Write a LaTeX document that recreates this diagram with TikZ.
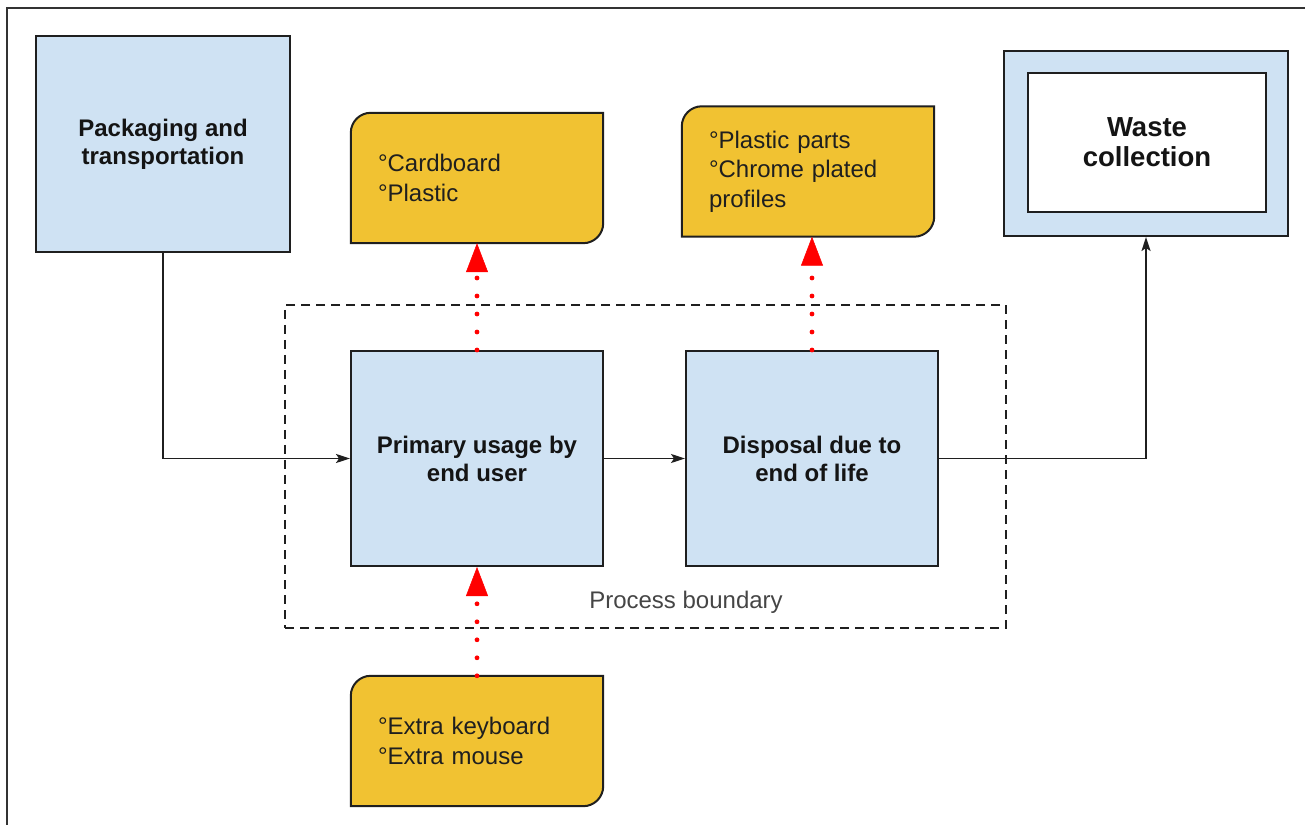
\documentclass[tikz,border=0pt]{standalone}
\usepackage{fontspec}
\setmainfont{Liberation Sans}
\usetikzlibrary{arrows.meta,backgrounds}
\definecolor{boxblue}{HTML}{CFE2F3}
\definecolor{noteyellow}{HTML}{F1C232}
\definecolor{edge}{HTML}{1F1F1F}
\definecolor{labelgray}{HTML}{454545}
\definecolor{framegray}{HTML}{333333}
\begin{document}
\begin{tikzpicture}[x=1pt,y=1pt,
  process/.style={draw=edge, line width=2pt, fill=boxblue, minimum width=252pt,
    minimum height=215pt, inner sep=0pt, align=center,
    font=\fontsize{24}{28}\selectfont\bfseries, text=black!92},
  note/.style={minimum width=252pt, minimum height=130pt, inner xsep=27pt,
    inner ysep=0pt, text width=198pt, align=left,
    font=\fontsize{24}{29.5}\selectfont, text=black!88},
  notebox/.style={draw=edge, line width=2pt, fill=noteyellow},
  flow/.style={draw=edge, line width=1.8pt,
    -{Stealth[length=14pt,width=9pt,inset=3pt]}},
  dotflow/.style={draw=red, line width=4.8pt, line cap=round,
    dash pattern=on 0pt off 18pt,
    -{Triangle[length=29pt,width=22pt,line width=0.5pt]}},
]
\useasboundingbox (0,0) rectangle (1305,825);

% outer frame (top and left edges only)
\draw[framegray, line width=1.5pt] (1305,817) -- (7,817) -- (7,0);

% process boundary
\node[draw=edge, line width=1.5pt, dash pattern=on 9pt off 6pt,
      minimum width=721pt, minimum height=323pt, inner sep=0pt]
      (bound) at (645.5,358.5) {};
\node[font=\fontsize{24}{28}\selectfont, text=labelgray] (blabel) at (686,223) {Process boundary};

% process steps
\node[process, minimum width=254pt, minimum height=216pt] (pack) at (163,681)
  {Packaging and\\transportation};
\node[process] (prim) at (477,366.5) {Primary usage by\\end user};
\node[process] (disp) at (812,366.5) {Disposal due to\\end of life};

% waste collection (double frame)
\node[draw=edge, line width=2pt, fill=boxblue, minimum width=284pt,
      minimum height=185pt, inner sep=0pt] (waste) at (1146,681.5) {};
\node[draw=edge, line width=2pt, fill=white, minimum width=238pt,
      minimum height=139pt, inner sep=0pt, align=center,
      font=\fontsize{27.5}{30}\selectfont\bfseries, text=black!92]
      (wastein) at (1147,682.5) {Waste\\collection};

% material notes
\node[note] (card) at (477,647) {°Cardboard\\°Plastic};
\node[note] (plast) at (808,653.5) {°Plastic parts\\°Chrome plated\\profiles};
\node[note] (keyb) at (477,84) {°Extra keyboard\\°Extra mouse};

\begin{scope}[on background layer]
  \foreach \n in {card,plast,keyb}
    \draw[notebox] (\n.south west) -- ([yshift=-20pt]\n.north west)
      arc[start angle=180, end angle=90, radius=20pt] -- (\n.north east)
      -- ([yshift=20pt]\n.south east)
      arc[start angle=0, end angle=-90, radius=20pt] -- cycle;
\end{scope}

% main flow
\draw[flow] (pack.south) |- (prim.west);
\draw[flow] (prim.east) -- (disp.west);
\draw[flow] (disp.east) -| (waste.south);

% material flows
\draw[dotflow] (prim.north) -- (card.south);
\draw[dotflow] (disp.north) -- (disp.north |- plast.south);
\draw[dotflow] (keyb.north) -- (prim.south);
\end{tikzpicture}
\end{document}
